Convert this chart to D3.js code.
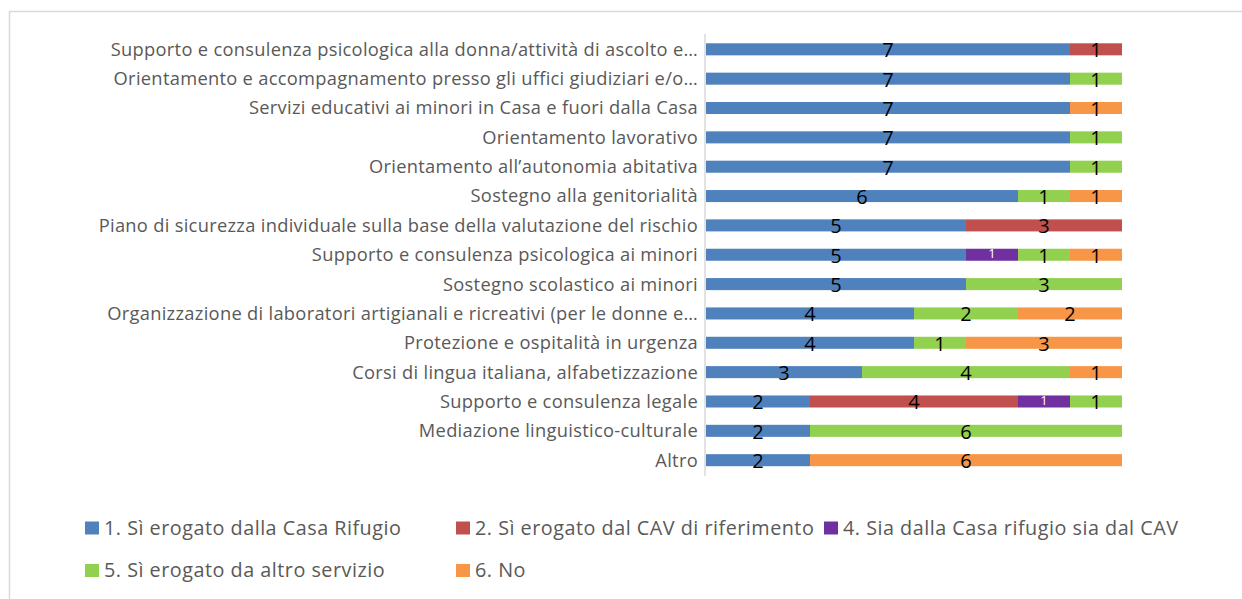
<!DOCTYPE html>
<html>
<head>
<meta charset="utf-8">
<script src="https://cdn.jsdelivr.net/npm/d3@7"></script>
<style>
  body { margin: 0; background: #fff; }
  svg { display: block; }
  text { font-family: "Open Sans", "Noto Sans", sans-serif; }
</style>
</head>
<body>
<div id="chart"></div>
<script>
var categories = [
  "Supporto e consulenza psicologica alla donna/attività di ascolto e…",
  "Orientamento e accompagnamento presso gli uffici giudiziari e/o…",
  "Servizi educativi ai minori in Casa e fuori dalla Casa",
  "Orientamento lavorativo",
  "Orientamento all’autonomia abitativa",
  "Sostegno alla genitorialità",
  "Piano di sicurezza individuale sulla base della valutazione del rischio",
  "Supporto e consulenza psicologica ai minori",
  "Sostegno scolastico ai minori",
  "Organizzazione di laboratori artigianali e ricreativi (per le donne e…",
  "Protezione e ospitalità in urgenza",
  "Corsi di lingua italiana, alfabetizzazione",
  "Supporto e consulenza legale",
  "Mediazione linguistico-culturale",
  "Altro"
];
var seriesNames = [
  "1. Sì erogato dalla Casa Rifugio",
  "2. Sì erogato dal CAV di riferimento",
  "4. Sia dalla Casa rifugio sia dal CAV",
  "5. Sì erogato da altro servizio",
  "6. No"
];
var casaRifugio = [7, 7, 7, 7, 7, 6, 5, 5, 5, 4, 4, 3, 2, 2, 2];
var cav         = [1, 0, 0, 0, 0, 0, 3, 0, 0, 0, 0, 0, 4, 0, 0];
var entrambi    = [0, 0, 0, 0, 0, 0, 0, 1, 0, 0, 0, 0, 1, 0, 0];
var altroServ   = [0, 1, 0, 1, 1, 1, 0, 1, 3, 2, 1, 4, 1, 6, 0];
var no          = [0, 0, 1, 0, 0, 1, 0, 1, 0, 2, 3, 1, 0, 0, 6];
var colors = ["#4F81BD", "#C0504D", "#7030A0", "#92D050", "#F79646"];

var seriesValues = [casaRifugio, cav, entrambi, altroServ, no];
var keys = ["s0", "s1", "s2", "s3", "s4"];
var data = categories.map(function(c, i) {
  var row = { cat: c };
  keys.forEach(function(k, j) { row[k] = seriesValues[j][i]; });
  return row;
});

var W = 1242, H = 599;
var svg = d3.select("#chart").append("svg").attr("width", W).attr("height", H);

// chart frame
svg.append("path")
  .attr("d", "M9.5," + H + " V11.5 H" + W)
  .attr("fill", "none").attr("stroke", "#d9d9d9").attr("stroke-width", 1.5);

var x = d3.scaleLinear().domain([0, 8]).range([706, 1122]);
var y = d3.scaleBand().domain(categories).range([34.5, 475]).paddingInner(0.59).paddingOuter(0.3);

var stack = d3.stack().keys(keys)(data);

// axis line
svg.append("line")
  .attr("x1", 705).attr("x2", 705)
  .attr("y1", 34).attr("y2", 476)
  .attr("stroke", "#d9d9d9").attr("stroke-width", 1.5);

// category labels
svg.selectAll(".cat")
  .data(categories)
  .enter().append("text")
  .attr("class", "cat")
  .attr("x", 698)
  .attr("y", function(d) { return y(d) + y.bandwidth() / 2; })
  .attr("dy", "0.35em")
  .attr("text-anchor", "end")
  .attr("fill", "#595959")
  .style("font-size", "18.3px")
  .style("letter-spacing", "0.3px")
  .text(function(d) { return d; });

var layers = svg.selectAll(".layer")
  .data(stack)
  .enter().append("g")
  .attr("fill", function(d, i) { return colors[i]; });

layers.selectAll("rect")
  .data(function(d) { return d.filter(function(p) { return p[1] - p[0] > 0; }); })
  .enter().append("rect")
  .attr("x", function(d) { return x(d[0]); })
  .attr("width", function(d) { return x(d[1]) - x(d[0]); })
  .attr("y", function(d) { return y(d.data.cat); })
  .attr("height", y.bandwidth());

// value labels
stack.forEach(function(layer, i) {
  svg.selectAll(".lab" + i)
    .data(layer.filter(function(p) { return p[1] - p[0] > 0; }))
    .enter().append("text")
    .attr("x", function(d) { return (x(d[0]) + x(d[1])) / 2; })
    .attr("y", function(d) { return y(d.data.cat) + y.bandwidth() / 2; })
    .attr("dy", i === 2 ? "0.25em" : "0.4em")
    .attr("text-anchor", "middle")
    .attr("fill", i === 2 ? "#fff" : "#000")
    .style("font-size", i === 2 ? "13px" : "20px")
    .text(function(d) { return d[1] - d[0]; });
});

// legend
var legendPos = [[85, 528], [456, 528], [824, 528], [85, 570.5], [456, 570.5]];
var legend = svg.selectAll(".leg")
  .data(seriesNames)
  .enter().append("g")
  .attr("transform", function(d, i) { return "translate(" + legendPos[i][0] + "," + legendPos[i][1] + ")"; });
legend.append("rect")
  .attr("x", 0).attr("y", -6.5).attr("width", 14).attr("height", 13)
  .attr("fill", function(d, i) { return colors[i]; });
legend.append("text")
  .attr("x", 19).attr("dy", "0.35em")
  .attr("fill", "#595959")
  .style("font-size", "19.8px")
  .style("letter-spacing", "0.5px")
  .text(function(d) { return d; });
</script>
</body>
</html>
